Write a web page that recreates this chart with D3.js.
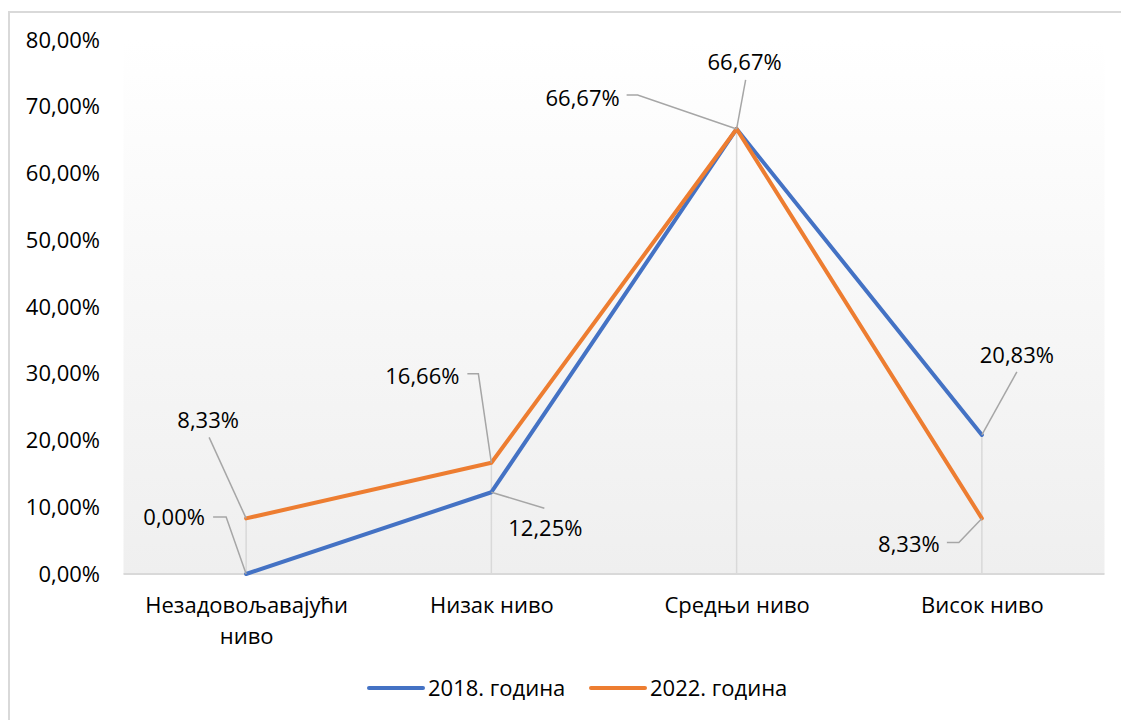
<!DOCTYPE html>
<html>
<head>
<meta charset="utf-8">
<script src="https://cdn.jsdelivr.net/npm/d3@7"></script>
<style>
  body { margin: 0; background: #fff; }
  svg text { font-family: "Open Sans", sans-serif; fill: #000; }
</style>
</head>
<body>
<div id="main"></div>
<script>

const categories = ['Незадовољавајући ниво', 'Низак ниво', 'Средњи ниво', 'Висок ниво'];
const values2018 = [0, 12.25, 66.67, 20.83];
const values2022 = [8.33, 16.66, 66.67, 8.33];
const yTicks = [0, 10, 20, 30, 40, 50, 60, 70, 80];
const seriesNames = ['2018. година', '2022. година'];

// where each data label sits, relative to its point (text centre + leader bends)
const labelPos2018 = [
    { dx: -72, dy: -57, leader: [[-33, -57], [-20, -57], [0, 0]] },
    { dx: 54, dy: 36, leader: [[53, 16], [0, 0]] },
    { dx: 8, dy: -67, leader: [[9, -49], [0, 0]] },
    { dx: 35, dy: -80, leader: [[35, -63], [0, 0]] }
];
const labelPos2022 = [
    { dx: -38, dy: -98, leader: [[-37, -81], [0, 0]] },
    { dx: -69, dy: -86, leader: [[-24, -89], [-13, -89], [0, 0]] },
    { dx: -154, dy: -31, leader: [[-110, -34], [-99, -34], [0, 0]] },
    { dx: -73, dy: 26, leader: [[-35, 24], [-23, 24], [0, 0]] }
];

const w = 1121;
const h = 720;
const pLeft = 123.5, pRight = 1104.5, pTop = 40, pBottom = 574;
const fs = 22;

const fmt = v => v.toFixed(2).replace('.', ',') + '%';

const svg = d3.select('#main').append('svg').attr('width', w).attr('height', h);

// chart border (right and bottom run off the picture)
svg.append('rect').attr('x', 9).attr('y', 12).attr('width', 1130).attr('height', 730)
    .attr('fill', '#fff').attr('stroke', '#d9d9d9').attr('stroke-width', 2);

const grad = svg.append('defs').append('linearGradient').attr('id', 'bg')
    .attr('x1', 0).attr('y1', 0).attr('x2', 0).attr('y2', 1);
grad.append('stop').attr('offset', '0%').attr('stop-color', '#ffffff');
grad.append('stop').attr('offset', '100%').attr('stop-color', '#efefef');

svg.append('rect').attr('x', pLeft).attr('y', pTop).attr('width', pRight - pLeft).attr('height', pBottom - pTop)
    .attr('fill', 'url(#bg)');

const xScale = d3.scalePoint().domain(categories).range([pLeft, pRight]).padding(0.5);
const yScale = d3.scaleLinear().domain([0, 80]).range([pBottom, pTop]);

// y axis labels
const yAxis = d3.axisLeft(yScale).tickValues(yTicks).tickFormat(fmt).tickSize(0).tickPadding(0);
const yg = svg.append('g').attr('transform', 'translate(100,0)').call(yAxis);
yg.select('.domain').remove();
yg.selectAll('text').attr('font-size', fs).attr('font-family', '"Open Sans", sans-serif').attr('fill', '#000');

// drop lines from the highest point of each category
svg.append('g').selectAll('line').data(categories).enter().append('line')
    .attr('x1', d => xScale(d)).attr('x2', d => xScale(d))
    .attr('y1', (d, i) => yScale(Math.max(values2018[i], values2022[i])))
    .attr('y2', pBottom)
    .attr('stroke', '#d9d9d9').attr('stroke-width', 1.5);

// x axis
const xAxis = d3.axisBottom(xScale).tickSize(0).tickPadding(0);
const xg = svg.append('g').attr('transform', `translate(0,${pBottom})`).call(xAxis);
xg.select('.domain').attr('d', `M${pLeft},0H${pRight}`).attr('stroke', '#d9d9d9').attr('stroke-width', 2);
xg.selectAll('text').remove();
xg.selectAll('.tick').each(function (d) {
    const t = d3.select(this).append('text').attr('text-anchor', 'middle')
        .attr('font-size', fs).attr('font-family', '"Open Sans", sans-serif').attr('fill', '#000');
    const parts = d === 'Незадовољавајући ниво' ? ['Незадовољавајући', 'ниво'] : [d];
    parts.forEach((p, k) => t.append('tspan').attr('x', 0).attr('y', 39 + k * 31).text(p));
});

const line = d3.line().x((d, i) => xScale(categories[i])).y(d => yScale(d));

const series = [
    { name: seriesNames[0], values: values2018, color: '#4472c4', labels: labelPos2018 },
    { name: seriesNames[1], values: values2022, color: '#ed7d31', labels: labelPos2022 }
];

series.forEach(s => {
    svg.append('path').datum(s.values).attr('d', line)
        .attr('fill', 'none').attr('stroke', s.color).attr('stroke-width', 4)
        .attr('stroke-linejoin', 'round').attr('stroke-linecap', 'round');
});

// data labels with leader lines
series.forEach(s => {
    const g = svg.append('g');
    s.values.forEach((v, i) => {
        const px = xScale(categories[i]), py = yScale(v);
        const lp = s.labels[i];
        g.append('path')
            .attr('d', d3.line()(lp.leader.map(p => [px + p[0], py + p[1]])))
            .attr('fill', 'none').attr('stroke', '#a6a6a6').attr('stroke-width', 1.5);
        g.append('text').attr('x', px + lp.dx).attr('y', py + lp.dy).attr('dy', '0.35em')
            .attr('text-anchor', 'middle').attr('font-size', fs).text(fmt(v));
    });
});

// legend
const legend = svg.append('g').attr('transform', 'translate(0,688)');
const legX = [369, 591];
series.forEach((s, i) => {
    legend.append('line').attr('x1', legX[i]).attr('x2', legX[i] + 54).attr('y1', 0).attr('y2', 0)
        .attr('stroke', s.color).attr('stroke-width', 4).attr('stroke-linecap', 'round');
    legend.append('text').attr('x', legX[i] + 59).attr('y', 0).attr('dy', '0.35em')
        .attr('font-size', fs).text(s.name);
});

</script>
</body>
</html>
